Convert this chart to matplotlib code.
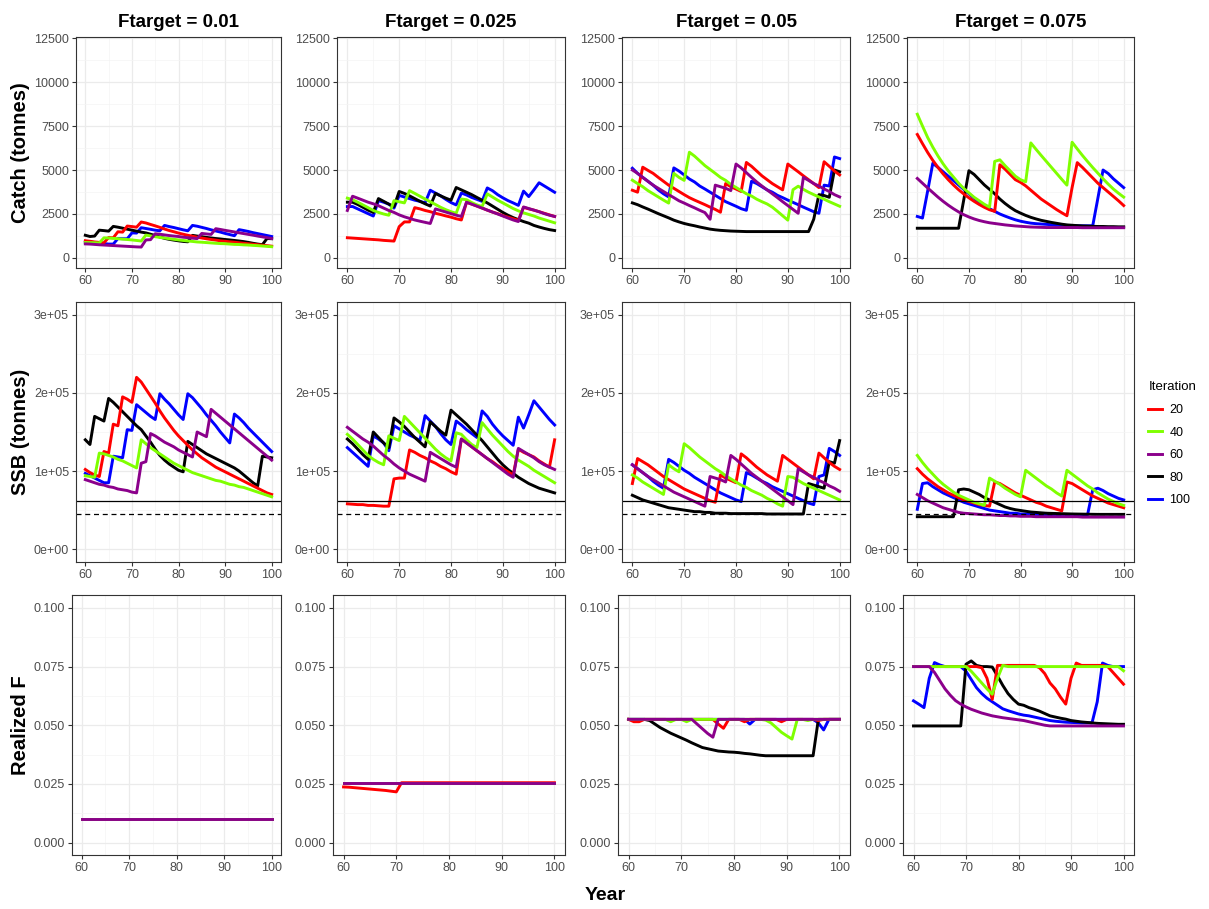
import matplotlib.pyplot as plt
from matplotlib.lines import Line2D
from matplotlib.ticker import FuncFormatter, MultipleLocator

plt.rcParams['font.family'] = ['Liberation Sans', 'DejaVu Sans']

years = list(range(60, 101))
iterations = [20, 40, 60, 80, 100]
colours = ['#FF0000', '#7FFF00', '#8B008B', '#000000', '#0000FF']
ftargets = ['0.01', '0.025', '0.05', '0.075']

# ---- catch (tonnes); rows are iterations 20, 40, 60, 80, 100 ----
catch_f01 = [
    [980, 950, 910, 885, 865, 1160, 1145, 1490, 1470, 1815, 1785, 1750, 2045, 1990, 1905, 1825, 1740, 1645, 1560, 1490,
     1415, 1350, 1290, 1235, 1180, 1135, 1090, 1050, 1015, 975, 950, 920, 895, 865, 835, 810, 780, 755, 725, 700, 670],
    [880, 875, 865, 855, 1145, 1135, 1115, 1095, 1070, 1050, 1025, 995, 965, 1300, 1255, 1210, 1170, 1135, 1095, 1060,
     1025, 995, 965, 940, 910, 895, 875, 855, 835, 820, 810, 790, 770, 765, 745, 735, 715, 700, 680, 660, 640],
    [800, 790, 770, 750, 735, 720, 705, 690, 675, 660, 645, 630, 620, 1025, 1040, 1375, 1350, 1310, 1275, 1245,
     1220, 1180, 1155, 1125, 1100, 1395, 1365, 1340, 1665, 1620, 1570, 1525, 1480, 1430, 1385, 1340, 1295, 1245, 1200, 1155, 1105],
    [1290, 1220, 1245, 1580, 1555, 1525, 1795, 1750, 1695, 1635, 1580, 1525, 1470, 1425, 1350, 1275, 1190, 1115, 1060, 1015,
     975, 940, 920, 1285, 1245, 1210, 1170, 1135, 1105, 1080, 1050, 1025, 995, 965, 930, 885, 835, 790, 755, 1105, 1095],
    [900, 900, 875, 845, 820, 790, 790, 1105, 1095, 1090, 1425, 1415, 1720, 1675, 1630, 1580, 1545, 1850, 1785, 1730,
     1665, 1600, 1545, 1850, 1805, 1740, 1675, 1600, 1535, 1470, 1395, 1330, 1265, 1610, 1560, 1505, 1440, 1385, 1330, 1275, 1220],
]
catch_f025 = [
    [1150, 1130, 1110, 1090, 1070, 1050, 1030, 1000, 980, 960, 1780, 2050, 2050, 2860, 2790, 2700, 2630, 2540, 2470, 2390,
     2320, 2230, 2160, 3170, 3060, 2950, 2840, 2720, 2610, 2520, 2410, 2320, 2230, 2140, 2880, 2790, 2720, 2630, 2540, 2450, 2360],
    [3400, 3310, 3170, 3015, 2860, 2700, 2590, 2500, 2430, 3260, 3195, 3130, 3825, 3670, 3510, 3350, 3195, 3040, 2880, 2745,
     2630, 2540, 3350, 3310, 3150, 3015, 2925, 3645, 3465, 3285, 3130, 2970, 2810, 2680, 2565, 2475, 2385, 2270, 2180, 2090, 2000],
    [2700, 3510, 3400, 3285, 3170, 3080, 2970, 2835, 2700, 2590, 2450, 2340, 2250, 2160, 2090, 2025, 1960, 2790, 2700, 2610,
     2520, 2430, 2360, 3170, 3060, 2950, 2835, 2720, 2610, 2500, 2385, 2270, 2160, 2070, 2900, 2810, 2720, 2630, 2520, 2430, 2360],
    [3170, 3170, 3040, 2880, 2720, 2590, 3375, 3220, 3060, 2925, 3780, 3670, 3530, 3375, 3220, 3080, 2950, 3670, 3530, 3400,
     3285, 4005, 3870, 3735, 3600, 3440, 3285, 3130, 2950, 2770, 2590, 2430, 2295, 2180, 2070, 1980, 1850, 1760, 1680, 1610, 1560],
    [2920, 2925, 2790, 2655, 2520, 2385, 3260, 3170, 3060, 2835, 3555, 3465, 3375, 3285, 3220, 3130, 3850, 3690, 3530, 3330,
     3150, 3015, 3690, 3580, 3440, 3330, 3220, 3980, 3825, 3600, 3420, 3260, 3130, 2990, 3800, 3490, 3870, 4275, 4095, 3915, 3735],
]
catch_f05 = [
    [3850, 3740, 5160, 4980, 4810, 4580, 4360, 4140, 3960, 3780, 3600, 3430, 3290, 3160, 3030, 2890, 2760, 2600, 4230, 4050,
     3920, 3780, 5430, 5210, 4940, 4670, 4450, 4230, 4050, 3870, 5340, 5120, 4900, 4670, 4450, 4230, 4000, 5470, 5210, 4940, 4720],
    [4420, 4230, 4050, 3830, 3650, 3470, 3290, 3120, 4810, 4580, 4410, 6010, 5790, 5520, 5250, 5030, 4810, 4580, 4410, 4180,
     4010, 3830, 3650, 3520, 3340, 3200, 3070, 2890, 2650, 2400, 2150, 3880, 4080, 3900, 3740, 3600, 3470, 3340, 3200, 3070, 2940],
    [5000, 4810, 4580, 4360, 4140, 3960, 3780, 3600, 3430, 3250, 3120, 2980, 2850, 2710, 2580, 2200, 4140, 4050, 3960, 3830,
     5340, 5120, 4850, 4580, 4320, 4090, 3870, 3650, 3430, 3200, 2980, 2760, 2540, 4580, 4410, 4230, 4090, 3920, 3780, 3600, 3470],
    [3130, 3030, 2900, 2780, 2650, 2520, 2400, 2280, 2150, 2050, 1960, 1890, 1830, 1760, 1700, 1640, 1600, 1570, 1550, 1530,
     1520, 1510, 1500, 1500, 1500, 1500, 1500, 1500, 1500, 1500, 1500, 1500, 1500, 1500, 1500, 2200, 3600, 3550, 3450, 5000, 4900],
    [5100, 4810, 4580, 4360, 4140, 3870, 3650, 3470, 5120, 4940, 4720, 4490, 4320, 4090, 3920, 3740, 3560, 3380, 3200, 3070,
     2940, 2800, 2710, 4360, 4230, 4050, 3870, 3740, 3560, 3430, 3290, 3160, 3030, 2890, 2760, 2630, 2540, 4140, 4090, 5740, 5650],
]
catch_f075 = [
    [7020, 6500, 6000, 5550, 5150, 4780, 4450, 4150, 3880, 3640, 3420, 3220, 3040, 2880, 2740, 2650, 5300, 5050, 4750, 4450,
     4300, 4100, 3850, 3600, 3350, 3150, 2950, 2750, 2570, 2400, 4000, 5420, 5150, 4850, 4550, 4250, 4000, 3750, 3500, 3250, 2980],
    [8170, 7500, 6850, 6300, 5800, 5350, 4950, 4600, 4250, 3950, 3700, 3450, 3250, 3050, 2890, 5490, 5580, 5250, 4950, 4650,
     4450, 4330, 6540, 6180, 5830, 5490, 5150, 4810, 4470, 4140, 6580, 6200, 5830, 5480, 5140, 4820, 4500, 4200, 3920, 3680, 3460],
    [4520, 4250, 3980, 3720, 3460, 3220, 3000, 2800, 2620, 2460, 2330, 2220, 2130, 2060, 2000, 1960, 1920, 1880, 1850, 1820,
     1800, 1780, 1760, 1750, 1740, 1730, 1730, 1730, 1730, 1730, 1730, 1730, 1720, 1720, 1720, 1720, 1720, 1720, 1720, 1720, 1720],
    [1690, 1690, 1690, 1690, 1690, 1690, 1690, 1690, 1690, 3300, 4960, 4750, 4450, 4150, 3900, 3650, 3350, 3100, 2880, 2690,
     2550, 2420, 2310, 2220, 2140, 2080, 2020, 1970, 1920, 1880, 1860, 1840, 1820, 1810, 1800, 1790, 1790, 1780, 1780, 1770, 1770],
    [2360, 2270, 3800, 5380, 5150, 4900, 4650, 4400, 4150, 3900, 3650, 3400, 3150, 2950, 2800, 2650, 2500, 2380, 2270, 2170,
     2090, 2030, 1980, 1950, 1930, 1910, 1890, 1870, 1860, 1850, 1840, 1830, 1830, 1830, 1830, 3400, 5000, 4800, 4500, 4250, 4000],
]

# ---- spawning stock biomass (thousand tonnes) ----
ssb_f01 = [
    [102, 98, 95, 93, 125, 123, 160, 158, 195, 192, 188, 220, 214, 205, 196, 187, 177, 168, 160, 152,
     145, 139, 133, 127, 122, 117, 113, 109, 105, 102, 99, 96, 93, 90, 87, 84, 81, 78, 75, 72, 70],
    [94, 93, 92, 123, 122, 120, 118, 115, 113, 110, 107, 104, 140, 135, 130, 126, 122, 118, 114, 110,
     107, 104, 101, 98, 96, 94, 92, 90, 88, 87, 85, 83, 82, 80, 79, 77, 75, 73, 71, 69, 67],
    [89, 87, 85, 83, 82, 80, 79, 77, 76, 75, 73, 72, 110, 112, 148, 145, 141, 137, 134, 131,
     127, 124, 121, 118, 150, 147, 144, 179, 174, 169, 164, 159, 154, 149, 144, 139, 134, 129, 124, 119, 114],
    [140, 134, 170, 167, 164, 193, 188, 182, 176, 170, 164, 158, 153, 145, 137, 128, 120, 114, 109, 105,
     101, 99, 138, 134, 130, 126, 122, 119, 116, 113, 110, 107, 104, 100, 95, 90, 85, 81, 119, 118, 117],
    [97, 94, 91, 88, 85, 85, 119, 118, 117, 153, 152, 185, 180, 175, 170, 166, 199, 192, 186, 179,
     172, 166, 199, 194, 187, 180, 172, 165, 158, 150, 143, 136, 173, 168, 162, 155, 149, 143, 137, 131, 125],
]
ssb_f025 = [
    [58, 57.5, 57, 57, 56, 56, 55.5, 55, 55, 90, 91, 91, 127, 124, 120, 117, 113, 110, 106, 103,
     99, 96, 141, 136, 131, 126, 121, 116, 112, 107, 103, 99, 95, 128, 124, 121, 118, 113, 109, 105, 140],
    [147, 141, 134, 127, 120, 115, 111, 108, 145, 142, 139, 170, 163, 156, 149, 142, 135, 128, 122, 117,
     113, 149, 147, 140, 134, 130, 162, 154, 146, 139, 132, 125, 119, 114, 110, 106, 101, 97, 93, 89, 85],
    [156, 151, 146, 141, 137, 132, 126, 120, 115, 109, 104, 100, 96, 93, 90, 87, 124, 120, 116, 112,
     108, 105, 141, 136, 131, 126, 121, 116, 111, 106, 101, 96, 92, 129, 125, 121, 117, 112, 108, 105, 102],
    [141, 135, 128, 121, 115, 150, 143, 136, 130, 168, 163, 157, 150, 143, 137, 131, 163, 157, 151, 146,
     178, 172, 166, 160, 153, 146, 139, 131, 123, 115, 108, 102, 97, 92, 88, 84, 81, 78, 76, 74, 72],
    [130, 124, 118, 112, 106, 145, 141, 136, 126, 158, 154, 150, 146, 143, 139, 171, 164, 157, 148, 140,
     134, 164, 159, 153, 148, 143, 177, 170, 160, 152, 145, 139, 133, 169, 155, 172, 190, 182, 174, 166, 159],
]
ssb_f05 = [
    [84, 116, 112, 108, 103, 98, 93, 89, 85, 81, 77, 74, 71, 68, 65, 62, 60, 95, 91, 88,
     85, 122, 117, 111, 105, 100, 95, 91, 87, 120, 115, 110, 105, 100, 95, 90, 123, 117, 111, 106, 102],
    [95, 91, 86, 82, 78, 74, 70, 108, 103, 99, 135, 130, 124, 118, 113, 108, 103, 99, 94, 90,
     86, 82, 79, 75, 72, 69, 65, 62, 58, 55, 93, 92, 88, 84, 81, 78, 75, 72, 69, 66, 63],
    [108, 103, 98, 93, 89, 85, 81, 77, 73, 70, 67, 64, 61, 58, 55, 93, 91, 89, 86, 120,
     115, 109, 103, 97, 92, 87, 82, 77, 72, 67, 62, 57, 103, 99, 95, 92, 88, 85, 81, 78, 74],
    [69, 66, 63, 61, 59, 57, 55, 53, 52, 51, 50, 49, 48, 48, 47, 47, 46, 46, 46, 45.5,
     45.5, 45.5, 45.5, 45.5, 45.5, 45.5, 45, 45, 45, 45, 45, 45, 45, 45, 84, 82, 80, 78, 112, 110, 139],
    [108, 103, 98, 93, 87, 82, 78, 115, 111, 106, 101, 97, 92, 88, 84, 80, 76, 72, 69, 66,
     63, 61, 98, 95, 91, 87, 84, 80, 77, 74, 71, 68, 65, 62, 59, 57, 93, 95, 129, 125, 120],
]
ssb_f075 = [
    [103, 96, 90, 85, 80, 76, 72, 69, 66, 63, 61, 59, 57, 56, 55, 86, 84, 80, 76, 72,
     69, 66, 63, 60, 58, 55, 53, 51, 49, 86, 84, 80, 76, 72, 68, 65, 62, 59, 57, 55, 53],
    [120, 111, 103, 96, 89, 83, 78, 73, 69, 66, 63, 60, 58, 56, 91, 87, 83, 78, 74, 70,
     67, 101, 96, 91, 86, 81, 77, 72, 68, 101, 96, 91, 86, 81, 77, 72, 68, 64, 61, 58, 56],
    [70, 66, 62, 59, 56, 53, 51, 49, 47, 46, 45.5, 45, 44.5, 44, 44, 43.5, 43, 43, 42.5, 42.5,
     42, 42, 42, 41.5, 41.5, 41.5, 41.5, 41.5, 41.5, 41.5, 41.5, 41.5, 41, 41, 41, 41, 41, 41, 41, 41, 41],
    [41.5, 41.5, 41.5, 41.5, 41.5, 41.5, 41.5, 41.5, 76, 77, 76, 73, 70, 66, 63, 60, 57, 54, 52, 50.5,
     49.5, 48.5, 47.5, 47, 46.5, 46, 45.8, 45.6, 45.4, 45.2, 45, 44.9, 44.8, 44.7, 44.6, 44.5, 44.5, 44.5, 44.5, 44.5, 44.5],
    [51, 84, 85, 80, 76, 72, 69, 66, 63, 60, 58, 56, 54, 52, 50, 49, 48, 47, 46, 46,
     45, 45, 44.5, 44.5, 44, 44, 44, 44, 44, 44, 44, 44, 44, 44, 76, 78, 75, 71, 68, 65, 63],
]

# ---- realized fishing mortality ----
fbar_f01 = [[0.01] * 41 for _ in iterations]
fbar_f025 = [
    [0.0237, 0.0236, 0.0234, 0.0232, 0.0230, 0.0228, 0.0226, 0.0224, 0.0222, 0.0219, 0.0216] + [0.0255] * 30,
    [0.0255] * 41,
    [0.0255] * 41,
    [0.0255] * 41,
    [0.0255] * 41,
]
fbar_f05 = [
    [0.0525, 0.0515, 0.0515, 0.0525, 0.0525, 0.0525, 0.0525, 0.0525, 0.0525, 0.0525,
     0.0525, 0.0525, 0.0525, 0.0525, 0.0525, 0.0525, 0.0525, 0.0505, 0.0487, 0.0525,
     0.0525, 0.0525, 0.0515, 0.0525, 0.0525, 0.0525, 0.0525, 0.0525, 0.0525, 0.0515,
     0.0525, 0.0525, 0.0525, 0.0525, 0.0525, 0.0525, 0.0520, 0.0525, 0.0525, 0.0525, 0.0525],
    [0.0525, 0.0525, 0.0525, 0.0525, 0.0525, 0.0525, 0.0525, 0.0525, 0.0515, 0.0525,
     0.0525, 0.0515, 0.0525, 0.0525, 0.0525, 0.0525, 0.0525, 0.0525, 0.0525, 0.0525,
     0.0525, 0.0525, 0.0525, 0.0525, 0.0525, 0.0525, 0.0522, 0.0510, 0.0490, 0.0470,
     0.0455, 0.0441, 0.0525, 0.0525, 0.0520, 0.0525, 0.0525, 0.0525, 0.0525, 0.0525, 0.0525],
    [0.0525, 0.0525, 0.0525, 0.0525, 0.0525, 0.0525, 0.0525, 0.0525, 0.0525, 0.0525,
     0.0525, 0.0525, 0.0525, 0.0505, 0.0485, 0.0465, 0.0449, 0.0525, 0.0525, 0.0525,
     0.0525, 0.0525, 0.0525, 0.0525, 0.0525, 0.0525, 0.0525, 0.0525, 0.0525, 0.0525,
     0.0525, 0.0525, 0.0525, 0.0525, 0.0525, 0.0525, 0.0525, 0.0525, 0.0525, 0.0525, 0.0525],
    [0.0525, 0.0525, 0.0525, 0.0525, 0.0520, 0.0505, 0.0490, 0.0478, 0.0466, 0.0456,
     0.0446, 0.0436, 0.0425, 0.0415, 0.0405, 0.0400, 0.0395, 0.0390, 0.0388, 0.0386,
     0.0385, 0.0383, 0.0380, 0.0378, 0.0375, 0.0372, 0.0370, 0.0370, 0.0370, 0.0370,
     0.0370, 0.0370, 0.0370, 0.0370, 0.0370, 0.0370, 0.0525, 0.0525, 0.0525, 0.0525, 0.0525],
    [0.0525, 0.0525, 0.0525, 0.0525, 0.0525, 0.0525, 0.0525, 0.0525, 0.0525, 0.0525,
     0.0525, 0.0525, 0.0525, 0.0525, 0.0525, 0.0525, 0.0525, 0.0525, 0.0525, 0.0525,
     0.0525, 0.0525, 0.0525, 0.0505, 0.0525, 0.0525, 0.0525, 0.0525, 0.0525, 0.0525,
     0.0525, 0.0525, 0.0525, 0.0525, 0.0525, 0.0525, 0.0510, 0.0480, 0.0525, 0.0525, 0.0525],
]
fbar_f075 = [
    [0.075, 0.075, 0.075, 0.075, 0.075, 0.075, 0.075, 0.075, 0.075, 0.075,
     0.075, 0.075, 0.075, 0.0745, 0.070, 0.061, 0.0755, 0.0755, 0.0755, 0.0755,
     0.0755, 0.0755, 0.0755, 0.0755, 0.0745, 0.072, 0.068, 0.0655, 0.062, 0.059,
     0.070, 0.0765, 0.0755, 0.0755, 0.0755, 0.0755, 0.0755, 0.075, 0.0725, 0.070, 0.0675],
    [0.075, 0.075, 0.075, 0.075, 0.075, 0.075, 0.075, 0.075, 0.075, 0.075,
     0.075, 0.073, 0.0705, 0.068, 0.0655, 0.0632, 0.070, 0.0755, 0.075, 0.075,
     0.075, 0.075, 0.075, 0.075, 0.075, 0.075, 0.075, 0.075, 0.075, 0.075,
     0.075, 0.075, 0.075, 0.075, 0.075, 0.075, 0.075, 0.075, 0.075, 0.075, 0.0732],
    [0.075, 0.075, 0.075, 0.075, 0.0725, 0.069, 0.0655, 0.0628, 0.0605, 0.059,
     0.0578, 0.0568, 0.056, 0.0552, 0.0546, 0.054, 0.0536, 0.0532, 0.0529, 0.0526,
     0.0523, 0.052, 0.0515, 0.051, 0.0505, 0.050, 0.0497, 0.0497, 0.0497, 0.0497,
     0.0497, 0.0497, 0.0497, 0.0497, 0.0497, 0.0497, 0.0497, 0.0497, 0.0497, 0.0497, 0.0497],
    [0.0497, 0.0497, 0.0497, 0.0497, 0.0497, 0.0497, 0.0497, 0.0497, 0.0497, 0.0497,
     0.076, 0.0774, 0.0755, 0.075, 0.075, 0.0748, 0.071, 0.067, 0.0635, 0.061,
     0.059, 0.0585, 0.0575, 0.0568, 0.056, 0.055, 0.054, 0.0535, 0.053, 0.0526,
     0.052, 0.0517, 0.0514, 0.0512, 0.051, 0.0508, 0.0507, 0.0506, 0.0505, 0.0504, 0.0504],
    [0.0604, 0.059, 0.0575, 0.070, 0.0767, 0.0757, 0.075, 0.075, 0.075, 0.075,
     0.073, 0.0695, 0.066, 0.0635, 0.0615, 0.060, 0.0585, 0.057, 0.0562, 0.0555,
     0.0548, 0.0543, 0.054, 0.0535, 0.053, 0.0525, 0.052, 0.0517, 0.0515, 0.0513,
     0.0512, 0.0511, 0.051, 0.051, 0.051, 0.060, 0.0765, 0.0755, 0.075, 0.075, 0.075],
]

bpa = 61500
blim = 45000

catch_panels = [catch_f01, catch_f025, catch_f05, catch_f075]
ssb_panels = [ssb_f01, ssb_f025, ssb_f05, ssb_f075]
fbar_panels = [fbar_f01, fbar_f025, fbar_f05, fbar_f075]

# panel boxes in pixels (left, right) and (top, bottom)
W, H = 1209, 909
col_x = [(76, 281), (337, 565), (622, 850), (907, 1134)]
row_y = [(37, 268), (302, 562), (595, 855)]
draw_order = [4, 3, 0, 1, 2]

fig = plt.figure(figsize=(W / 100, H / 100), dpi=100)


def make_axes(col, row, shift=0):
    x0, x1 = col_x[col]
    y0, y1 = row_y[row]
    x0 -= shift
    return fig.add_axes([x0 / W, 1 - y1 / H, (x1 - x0) / W, (y1 - y0) / H])


def style(ax):
    ax.set_xlim(58, 102)
    ax.xaxis.set_major_locator(MultipleLocator(10))
    ax.xaxis.set_minor_locator(MultipleLocator(5))
    ax.grid(which='major', color='#EBEBEB', lw=0.9)
    ax.grid(which='minor', color='#F4F4F4', lw=0.5)
    ax.set_axisbelow(True)
    for s in ax.spines.values():
        s.set_color('#333333')
        s.set_linewidth(0.8)
    ax.tick_params(which='major', length=3, width=0.8, color='#333333',
                   labelsize=9, labelcolor='#4D4D4D', pad=2)
    ax.tick_params(which='minor', length=0)


for c in range(4):
    # catch row
    ax = make_axes(c, 0)
    for i in draw_order:
        ax.plot(years, catch_panels[c][i], color=colours[i], lw=2.1)
    style(ax)
    ax.set_ylim(-570, 12560)
    ax.yaxis.set_major_locator(MultipleLocator(2500))
    ax.yaxis.set_minor_locator(MultipleLocator(1250))
    ax.set_title('Ftarget = ' + ftargets[c], fontsize=13.5, fontweight='bold', pad=7)

    # SSB row
    ax = make_axes(c, 1)
    for i in draw_order:
        ax.plot(years, [v * 1000 for v in ssb_panels[c][i]], color=colours[i], lw=2.1)
    ax.axhline(bpa, color='black', lw=0.9)
    ax.axhline(blim, color='black', lw=0.9, ls=(0, (4, 3)))
    style(ax)
    ax.set_ylim(-16500, 316500)
    ax.yaxis.set_major_locator(MultipleLocator(100000))
    ax.yaxis.set_minor_locator(MultipleLocator(50000))
    ax.yaxis.set_major_formatter(FuncFormatter(lambda v, p: f'{v:.0e}'))

    # realized F row
    ax = make_axes(c, 2, shift=4)
    for i in draw_order:
        ax.plot(years, fbar_panels[c][i], color=colours[i], lw=2.1)
    style(ax)
    ax.set_ylim(-0.0053, 0.1055)
    ax.yaxis.set_major_locator(MultipleLocator(0.025))
    ax.yaxis.set_minor_locator(MultipleLocator(0.0125))
    ax.yaxis.set_major_formatter(FuncFormatter(lambda v, p: f'{v:.3f}'))

# row titles and x title
for label, (y0, y1) in zip(['Catch (tonnes)', 'SSB (tonnes)', 'Realized F'], row_y):
    fig.text(21 / W, 1 - (y0 + y1) / 2 / H, label, rotation=90, fontsize=14.5,
             fontweight='bold', ha='center', va='center')
fig.text(605 / W, 1 - 895 / H, 'Year', fontsize=14, fontweight='bold', ha='center', va='center')

handles = [Line2D([], [], color=col, lw=2.1) for col in colours]
fig.legend(handles, [str(it) for it in iterations], title='Iteration', loc='upper left',
           bbox_to_anchor=(1137 / W, 1 - 370 / H), frameon=False, fontsize=9,
           title_fontsize=9.5, handlelength=1.1, handletextpad=0.6,
           labelspacing=0.85, alignment='left')

fig.savefig('out.png', dpi=100)
